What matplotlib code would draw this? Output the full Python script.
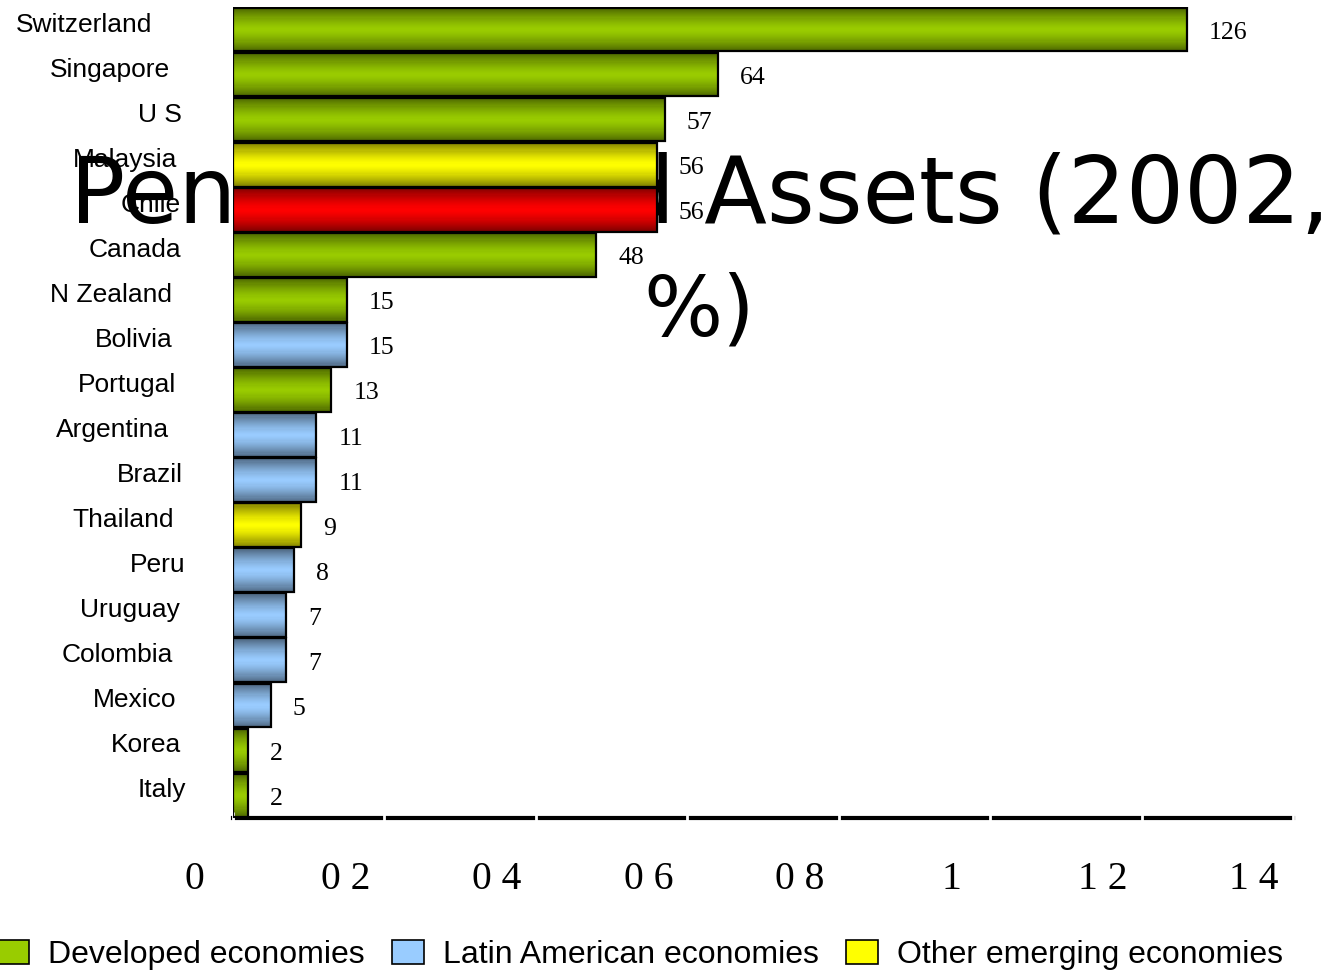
import matplotlib
matplotlib.use("Agg")
import matplotlib.pyplot as plt
import matplotlib.transforms as mtransforms
from matplotlib.patches import Patch
from matplotlib.colors import to_rgb
import numpy as np

# Pension fund assets, 2002, % of GDP
countries = ["Switzerland", "Singapore", "U S", "Malaysia", "Chile", "Canada",
             "N Zealand", "Bolivia", "Portugal", "Argentina", "Brazil", "Thailand",
             "Peru", "Uruguay", "Colombia", "Mexico", "Korea", "Italy"]
assets = [126, 64, 57, 56, 56, 48, 15, 15, 13, 11, 11, 9, 8, 7, 7, 5, 2, 2]
groups = ["dev", "dev", "dev", "oth", "chile", "dev", "dev", "lat", "dev", "lat",
          "lat", "oth", "lat", "lat", "lat", "lat", "dev", "dev"]

xtick_values = [0, 20, 40, 60, 80, 100, 120, 140]
xtick_labels = ["0", "0 2", "0 4", "0 6", "0 8", "1", "1 2", "1 4"]

legend_labels = ["Developed economies", "Latin American economies",
                 "Other emerging economies"]

# bright centre colour / dark edge colour of each bar group
palette = {
    "dev": ("#99cc00", "#4c6600"),
    "lat": ("#99ccff", "#4d6680"),
    "oth": ("#ffff00", "#808000"),
    "chile": ("#ff0000", "#800000"),
}

# right edge (px) of each country label, they are not aligned
label_right_px = [152, 170, 182, 177, 181, 181, 172, 173, 176, 169, 183, 174,
                  185, 180, 173, 176, 181, 186]

W, H, DPI = 1330, 972, 100
fig = plt.figure(figsize=(W / DPI, H / DPI), dpi=DPI)
ax = fig.add_axes([233 / W, 1 - 818 / H, (1293 - 233) / W, (818 - 7) / H])

ypos = np.arange(len(countries))
bars = ax.barh(ypos, assets, height=0.97, facecolor="none", edgecolor="black",
               linewidth=1.6, zorder=2)

# shade every bar as a cylinder: thin stripes, dark at top and bottom
N_STRIPES = 40
t = (np.arange(N_STRIPES) + 0.5) / N_STRIPES
shade = 1 - np.abs(2 * t - 1) ** 1.4
for patch, g in zip(bars, groups):
    bright, dark = (np.array(to_rgb(c)) for c in palette[g])
    y0, h = patch.get_y(), patch.get_height()
    sh = h / N_STRIPES
    cols = [dark + (bright - dark) * s for s in shade]
    ax.barh(y0 + (np.arange(N_STRIPES) + 0.5) * sh, patch.get_width(),
            height=sh * 1.05, color=cols, linewidth=0, antialiased=False,
            zorder=1.5)

ax.set_xlim(0, 140)
ax.set_ylim(len(countries) - 0.5, -0.5)

for s in ["top", "right", "left"]:
    ax.spines[s].set_visible(False)
ax.spines["bottom"].set_linewidth(3)
ax.spines["bottom"].set_zorder(1)
ax.set_yticks([])
ax.set_xticks(xtick_values)
ax.tick_params(axis="x", colors="white", direction="inout", length=8, width=2,
               labelbottom=False)

# value labels to the right of each bar
val_off = mtransforms.ScaledTranslation(22 / DPI, -3.5 / DPI, fig.dpi_scale_trans)
for i, v in enumerate(assets):
    ax.text(v, i, str(v), ha="left", va="center", fontsize=18.5,
            family="Liberation Serif", transform=ax.transData + val_off, zorder=3)

# country names
name_tr = mtransforms.blended_transform_factory(fig.transFigure, ax.transData) + \
    mtransforms.ScaledTranslation(0, 5 / DPI, fig.dpi_scale_trans)
for i, (name, rx) in enumerate(zip(countries, label_right_px)):
    ax.text(rx / W, i, name, ha="right", va="center", fontsize=19,
            family="Liberation Sans", transform=name_tr, clip_on=False, zorder=3)

# x tick labels, sitting left of their ticks
tick_tr = mtransforms.blended_transform_factory(ax.transData, fig.transFigure) + \
    mtransforms.ScaledTranslation(-39 / DPI, 0, fig.dpi_scale_trans)
for xv, lab in zip(xtick_values, xtick_labels):
    ax.text(xv, 1 - 879 / H, lab, ha="center", va="center", fontsize=28.5,
            family="Liberation Serif", transform=tick_tr, clip_on=False)

# title, drawn behind the bars
ax.text(700 / W, 1 - 222 / H, "Pension Fund Assets (2002,", ha="center",
        va="baseline", fontsize=66, family="DejaVu Sans", transform=fig.transFigure,
        clip_on=False, zorder=0.5)
ax.text(699 / W, 1 - 335 / H, "%)", ha="center", va="baseline", fontsize=60,
        family="DejaVu Sans", transform=fig.transFigure, clip_on=False, zorder=0.5)

handles = [Patch(facecolor=palette[k][0], edgecolor="black", linewidth=1.2)
           for k in ["dev", "lat", "oth"]]
fig.legend(handles, legend_labels, loc="lower left", bbox_to_anchor=(-0.002, 0.002),
           ncol=3, frameon=False, borderpad=0, borderaxespad=0,
           prop={"family": "Liberation Sans", "size": 23},
           handlelength=1.0, handleheight=0.8, handletextpad=0.6,
           columnspacing=0.85)

fig.savefig("out.png", dpi=DPI)
